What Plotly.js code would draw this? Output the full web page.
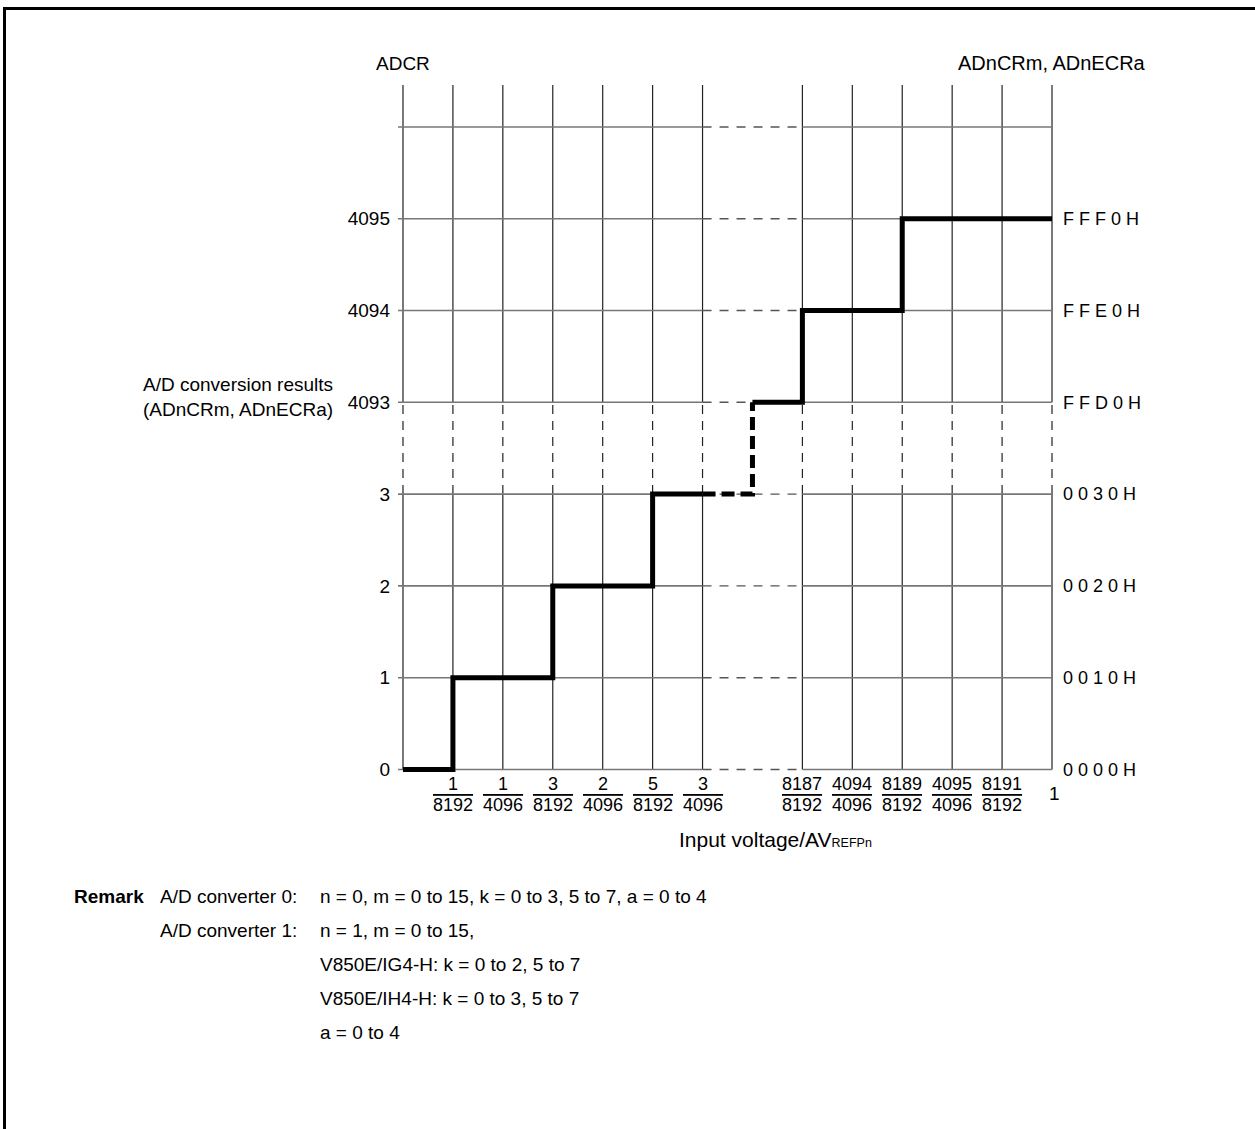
<!DOCTYPE html>
<html><head><meta charset="utf-8">
<script src="https://cdn.plot.ly/plotly-3.0.1.min.js"></script>
<style>
html,body{margin:0;padding:0;background:#fff;overflow:hidden;}
#chart{position:absolute;left:0;top:0;width:1255px;height:1129px;}
#frame{position:absolute;left:3px;top:7px;width:1300px;height:1200px;border-top:3px solid #000;border-left:3px solid #000;pointer-events:none;}
</style></head><body>
<div id="chart"></div><div id="frame"></div>
<script>
// ---- data ----
const gridSlots = [0, 1, 2, 3, 4, 5, 6, 8, 9, 10, 11, 12, 13];
const xTickSlots = [1, 2, 3, 4, 5, 6, 8, 9, 10, 11, 12];
const xNumerators = ['1', '1', '3', '2', '5', '3', '8187', '4094', '8189', '4095', '8191'];
const xDenominators = ['8192', '4096', '8192', '4096', '8192', '4096', '8192', '4096', '8192', '4096', '8192'];
const endLabel = '1';
const levelSlots = [0, 1, 2, 3, 4, 5, 6, 7];
const codeLabels = ['0', '1', '2', '3', '4093', '4094', '4095'];
const hexLabels = ['0 0 0 0 H', '0 0 1 0 H', '0 0 2 0 H', '0 0 3 0 H', 'F F D 0 H', 'F F E 0 H', 'F F F 0 H'];
const stepLowX = [0, 1, 1, 3, 3, 5, 5, 6];
const stepLowY = [0, 0, 1, 1, 2, 2, 3, 3];
const stepGapX = [6, 7, 7];
const stepGapY = [3, 3, 4];
const stepHighX = [7, 8, 8, 10, 10, 13];
const stepHighY = [4, 4, 5, 5, 6, 6];
const remarkLines = [
  ['<b>Remark</b>', 'A/D converter 0:', 'n = 0, m = 0 to 15, k = 0 to 3, 5 to 7, a = 0 to 4'],
  ['', 'A/D converter 1:', 'n = 1, m = 0 to 15,'],
  ['', '', 'V850E/IG4-H: k = 0 to 2, 5 to 7'],
  ['', '', 'V850E/IH4-H: k = 0 to 3, 5 to 7'],
  ['', '', 'a = 0 to 4']
];

// ---- layout constants ----
const FONT = '"Liberation Sans", Arial, Helvetica, sans-serif';
const FS = 19;
const L = 398, R = 1057, T = 85, B = 775.5;
const X0 = -0.1, X1 = 13.1, Y0 = -0.06, Y1 = 7.457;
const px = x => (x - L) / (R - L);
const py = y => (B - y) / (B - T);

// breaks derived from data
let xBreakA = null, xBreakB = null;
for (let i = 1; i < gridSlots.length; i++) if (gridSlots[i] - gridSlots[i-1] > 1) { xBreakA = gridSlots[i-1]; xBreakB = gridSlots[i]; }
let yBreakA = null, yBreakB = null;
for (let i = 1; i < codeLabels.length; i++) if (+codeLabels[i] - +codeLabels[i-1] > 1) { yBreakA = i - 1; yBreakB = i; }
const xMin = gridSlots[0], xMax = gridSlots[gridSlots.length - 1];

const vsx = [], vsy = [], vdx = [], vdy = [];
gridSlots.forEach(g => {
  vsx.push(g, g, null, g, g, null); vsy.push(0, yBreakA, null, yBreakB, Y1, null);
  vdx.push(g, g, null); vdy.push(yBreakA, yBreakB, null);
});
const hsx = [], hsy = [], hdx = [], hdy = [];
levelSlots.forEach(l => {
  hsx.push(X0, xBreakA, null, xBreakB, xMax, null); hsy.push(l, l, null, l, l, null);
  hdx.push(xBreakA, xBreakB, null); hdy.push(l, l, null);
});

const traces = [
  {x: vsx, y: vsy, mode: 'lines', line: {color: '#222', width: 1.2}},
  {x: vdx, y: vdy, mode: 'lines', line: {color: '#222', width: 1.2, dash: '9px,7px'}},
  {x: hsx, y: hsy, mode: 'lines', line: {color: '#777', width: 1.6}},
  {x: hdx, y: hdy, mode: 'lines', line: {color: '#555', width: 1.4, dash: '9px,8px'}},
  {x: stepLowX, y: stepLowY, mode: 'lines', line: {color: '#000', width: 5}},
  {x: stepGapX, y: stepGapY, mode: 'lines', line: {color: '#000', width: 5, dash: '13px,6px'}},
  {x: stepHighX, y: stepHighY, mode: 'lines', line: {color: '#000', width: 5}}
];

const annotations = [
  {xref: 'x', yref: 'paper', x: xMin, y: py(63), text: 'ADCR', showarrow: false, xanchor: 'center', yanchor: 'middle', font: {size: 19}},
  {xref: 'x', yref: 'paper', x: xMax, y: py(63), text: 'ADnCRm, ADnECRa', showarrow: false, xanchor: 'center', yanchor: 'middle', font: {size: 20}},
  {xref: 'paper', yref: 'y', x: px(335), y: yBreakB, yshift: 5, text: 'A/D conversion results<br>(ADnCRm, ADnECRa)', align: 'right', showarrow: false, xanchor: 'right', yanchor: 'middle', font: {size: 19}},
  {xref: 'x', yref: 'y', x: xMax, y: 0, yshift: -24, xshift: 2, text: endLabel, showarrow: false, xanchor: 'center', yanchor: 'middle', font: {size: 19}},
  {xref: 'paper', yref: 'paper', x: px(775), y: py(840), text: 'Input voltage/AV<span style="font-size:12.5px">REFPn</span>', showarrow: false, xanchor: 'center', yanchor: 'middle', font: {size: 21}}
];
xTickSlots.forEach((s, i) => {
  annotations.push({xref: 'x', yref: 'paper', x: s, y: py(785), text: xNumerators[i], showarrow: false, xanchor: 'center', yanchor: 'middle', font: {size: 18}});
  annotations.push({xref: 'x', yref: 'paper', x: s, y: py(806), text: '<span style="text-decoration:overline">' + xDenominators[i] + '</span>', showarrow: false, xanchor: 'center', yanchor: 'middle', font: {size: 18}});
});
const colX = [146, 158, 318];
const colAnchor = ['right', 'left', 'left'];
remarkLines.forEach((row, r) => {
  row.forEach((t, c) => {
    if (!t) return;
    annotations.push({xref: 'paper', yref: 'paper', x: px(colX[c]), y: py(897 + r * 34), text: t, showarrow: false, xanchor: colAnchor[c], yanchor: 'middle', font: {size: 19}});
  });
});

const layout = {
  width: 1255, height: 1129,
  margin: {l: L, r: 1255 - R, t: T, b: 1129 - B, pad: 0},
  paper_bgcolor: '#fff', plot_bgcolor: '#fff',
  showlegend: false, hovermode: false,
  font: {family: FONT, size: FS, color: '#000'},
  xaxis: {range: [X0, X1], showticklabels: false, ticks: '', showgrid: false, zeroline: false, showline: false},
  yaxis: {range: [Y0, Y1], tickvals: codeLabels.map((_, i) => i), ticktext: codeLabels, ticks: '', showgrid: false, zeroline: false, showline: false, ticklabelstandoff: 7, tickfont: {size: 19}},
  yaxis2: {range: [Y0, Y1], overlaying: 'y', side: 'right', tickvals: hexLabels.map((_, i) => i), ticktext: hexLabels, ticks: '', showgrid: false, zeroline: false, showline: false, ticklabelstandoff: 5, tickfont: {size: 18}},
  annotations: annotations
};
traces.push({x: [xMax], y: [0], yaxis: 'y2', mode: 'markers', marker: {opacity: 0}});
Plotly.newPlot('chart', traces, layout, {staticPlot: true, displayModeBar: false});
</script>
</body></html>
